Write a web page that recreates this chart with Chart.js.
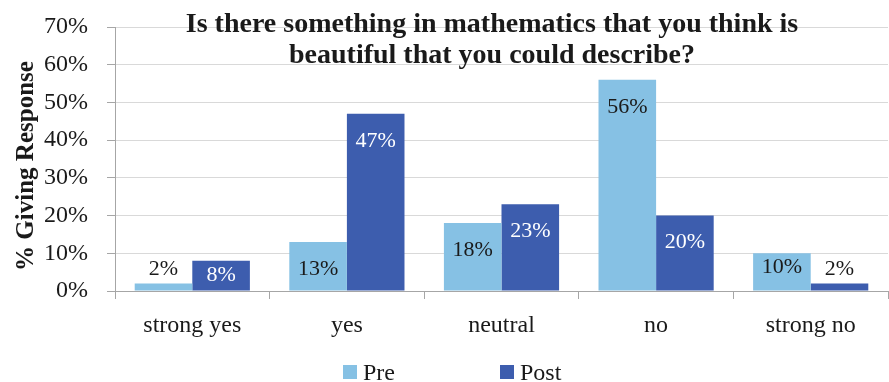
<!DOCTYPE html>
<html><head><meta charset="utf-8">
<script src="https://cdn.jsdelivr.net/npm/chart.js@4.4.0/dist/chart.umd.min.js"></script>
<style>html,body{margin:0;padding:0;background:#fff}#wrap{width:889px;height:382px}</style>
</head><body><div id="wrap"><canvas id="c" width="889" height="382"></canvas></div>
<script>
const categories = ["strong yes", "yes", "neutral", "no", "strong no"];
const preValues = [2, 13, 18, 56, 10];
const postValues = [8, 47, 23, 20, 2];
const seriesNames = ["Pre", "Post"];
const titleLines = ["Is there something in mathematics that you think is", "beautiful that you could describe?"];
const yAxisTitle = "% Giving Response";
const yTicks = [0, 10, 20, 30, 40, 50, 60, 70];

const PRE_COLOR = "#86C1E4";
const POST_COLOR = "#3D5DAE";
const SERIF = "'Liberation Serif','Times New Roman',serif";

const extras = {
  id: "extras",
  afterDatasetsDraw(chart) {
    const ctx = chart.ctx;
    ctx.save();
    ctx.font = "22px " + SERIF;
    ctx.textAlign = "center";
    ctx.textBaseline = "middle";
    chart.data.datasets.forEach((ds, di) => {
      const meta = chart.getDatasetMeta(di);
      meta.data.forEach((bar, i) => {
        const h = bar.base - bar.y;
        let y, color;
        if (h >= 42) { y = bar.y + 27; color = di === 0 ? "#1a1a1a" : "#ffffff"; }
        else if (h >= 20) { y = bar.y + 14; color = di === 0 ? "#1a1a1a" : "#ffffff"; }
        else { y = bar.y - 14; color = "#1a1a1a"; }
        ctx.fillStyle = color;
        ctx.fillText(ds.data[i] + "%", bar.x, y);
      });
    });
    ctx.restore();
  },
  afterDraw(chart) {
    const ctx = chart.ctx;
    ctx.save();
    ctx.fillStyle = "#1a1a1a";
    ctx.font = "bold 28px " + SERIF;
    ctx.textAlign = "center";
    ctx.textBaseline = "alphabetic";
    ctx.fillText(titleLines[0], 492, 32);
    ctx.fillText(titleLines[1], 492, 63);
    ctx.save();
    ctx.translate(33, 166);
    ctx.rotate(-Math.PI / 2);
    ctx.font = "bold 25px " + SERIF;
    ctx.textBaseline = "alphabetic";
    ctx.fillText(yAxisTitle, 0, 0);
    ctx.restore();
    const items = [{x: 343, c: PRE_COLOR, t: seriesNames[0]}, {x: 500, c: POST_COLOR, t: seriesNames[1]}];
    ctx.font = "24px " + SERIF;
    ctx.textAlign = "left";
    ctx.textBaseline = "alphabetic";
    items.forEach(it => {
      ctx.fillStyle = it.c;
      ctx.fillRect(it.x, 365, 14, 14);
      ctx.fillStyle = "#1a1a1a";
      ctx.fillText(it.t, it.x + 20, 380);
    });
    ctx.restore();
  }
};

new Chart(document.getElementById("c"), {
  type: "bar",
  data: {
    labels: categories,
    datasets: [
      {label: seriesNames[0], data: preValues, backgroundColor: PRE_COLOR},
      {label: seriesNames[1], data: postValues, backgroundColor: POST_COLOR}
    ]
  },
  options: {
    responsive: false,
    animation: false,
    devicePixelRatio: 1,
    layout: {padding: {top: 27, right: 1, left: 0, bottom: 0}},
    categoryPercentage: 0.745,
    barPercentage: 1.0,
    plugins: {legend: {display: false}, tooltip: {enabled: false}, title: {display: false}},
    scales: {
      x: {
        grid: {display: true, drawOnChartArea: false, drawTicks: true, tickLength: 8, color: "#a6a6a6", tickColor: "#a6a6a6", offset: true},
        border: {display: true, color: "#a6a6a6", width: 1},
        ticks: {font: {family: SERIF, size: 24}, color: "#1a1a1a", padding: 12, maxRotation: 0},
        afterFit(s) { s.height = 91; s.paddingLeft = 0; s.paddingRight = 0; }
      },
      y: {
        min: 0, max: 70,
        afterBuildTicks(s) { s.ticks = yTicks.map(v => ({value: v})); },
        grid: {color: "#d9d9d9", tickColor: "#a6a6a6", tickLength: 8, drawTicks: true},
        border: {display: true, color: "#a6a6a6", width: 1},
        ticks: {font: {family: SERIF, size: 24}, color: "#1a1a1a", padding: 19, callback: v => v + "%"},
        afterFit(s) { s.width = 115; s.paddingTop = 0; s.paddingBottom = 0; }
      }
    }
  },
  plugins: [extras]
});
</script></body></html>
